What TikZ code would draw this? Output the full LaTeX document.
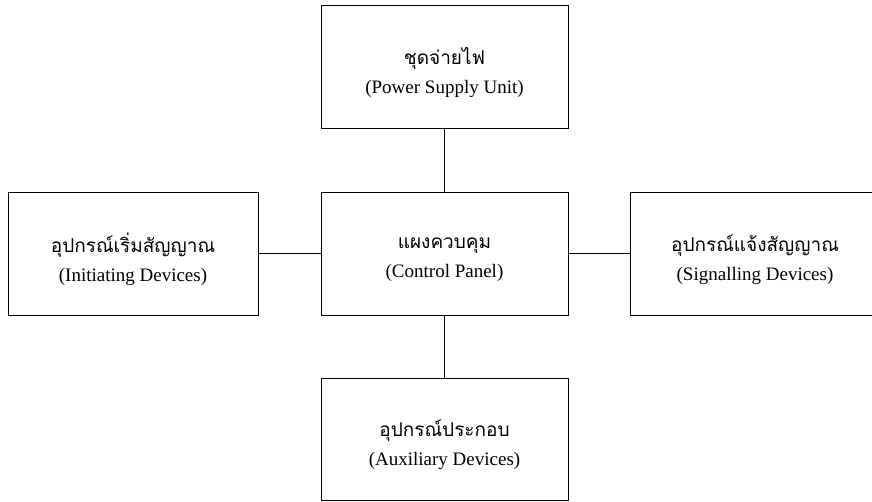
\documentclass[tikz,border=0pt]{standalone}
\usepackage{fontspec}
\setmainfont{Liberation Serif}
\newfontfamily\thaifont[Script=Thai]{Loma}
\begin{document}
\begin{tikzpicture}[x=1pt,y=-1pt,
		unit/.style={draw, line width=0.8pt, minimum width=247pt, minimum height=123pt,
			inner sep=0pt, align=center, font=\fontsize{19}{29}\selectfont}]
	\useasboundingbox (0,0) rectangle (872,502);
		\node[unit] (ctrl) at (444.5,253.5) {{\thaifont แผงควบคุม}\\(Control Panel)\\[-37pt]};
		\node[unit] (power) at (444.5,66.5) {{\thaifont ชุดจ่ายไฟ}\\(Power Supply Unit)\\[-37pt]};
		\node[unit, minimum width=250pt] (init) at (133,253.5) {{\thaifont อุปกรณ์เริ่มสัญญาณ}\\(Initiating Devices)\\[-37pt]};
		\node[unit, minimum width=250pt] (signal) at (755,253.5) {{\thaifont อุปกรณ์แจ้งสัญญาณ}\\(Signalling Devices)\\[-37pt]};
		\node[unit, minimum height=122pt] (aux) at (444.5,439) {{\thaifont อุปกรณ์ประกอบ}\\(Auxiliary Devices)\\[-37pt]};
		\draw[line width=0.8pt] (power) -- (ctrl);
		\draw[line width=0.8pt] (ctrl) -- (aux);
		\draw[line width=0.8pt] (init) -- (ctrl);
		\draw[line width=0.8pt] (ctrl) -- (signal);
	\end{tikzpicture}
\end{document}
